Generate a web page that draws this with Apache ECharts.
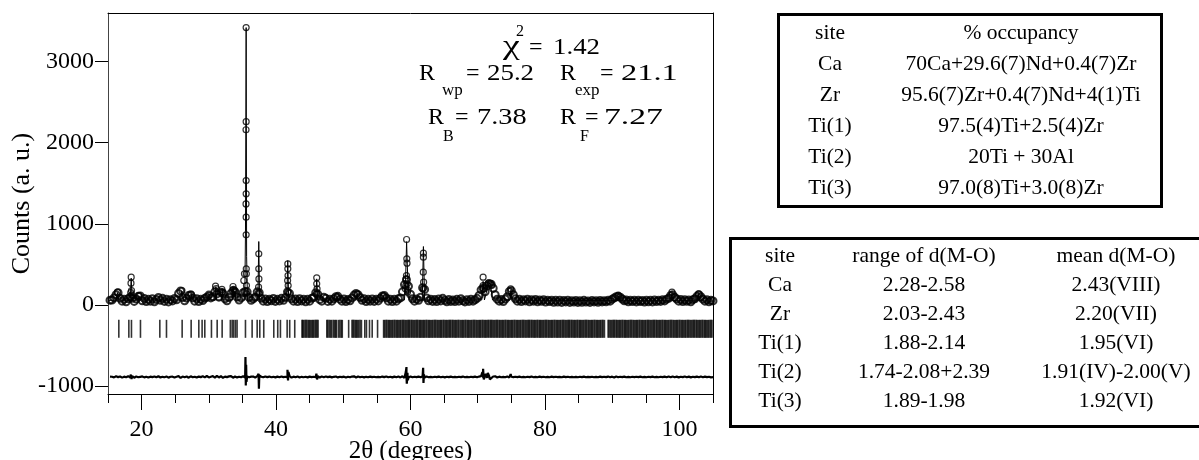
<!DOCTYPE html>
<html><head><meta charset="utf-8">
<script src="https://cdn.jsdelivr.net/npm/echarts@6/dist/echarts.min.js"></script>
<style>html,body{margin:0;padding:0;background:#fff}#c{width:1199px;height:460px}</style>
</head><body><div id="c"></div>
<script>
// ---------- data ----------
const obsStart = 15.3, obsStep = 0.3;
const obsBg = [58,
60,85,125,150,80,45,70,38,75,95,
80,42,72,105,110,50,78,40,68,45,
75,38,66,90,55,80,42,70,36,64,
48,78,62,140,170,90,50,82,115,125,
85,45,76,40,70,52,80,95,120,85,
100,160,135,95,155,140,75,50,90,140,
175,155,95,60,85,150,165,160,90,55,
75,95,160,150,80,45,72,40,70,50,
78,42,68,48,80,55,90,160,140,75,
45,72,40,75,48,70,38,68,45,80,
90,150,130,65,45,95,80,42,70,45,
75,100,105,70,45,72,40,66,50,85,
120,140,125,90,55,75,40,68,45,72,
42,70,48,80,110,115,85,45,70,40,
68,45,75,85,160,250,310,230,130,75,
45,72,55,95,210,190,85,50,70,42,
65,40,72,48,80,55,38,66,42,60,
40,68,45,75,50,36,64,42,70,45,
62,80,115,185,205,160,235,260,255,205,
125,70,45,66,40,72,100,165,175,125,
75,45,68,40,64,48,70,38,62,45,
66,38,60,44,64,35,58,40,56,32,
55,34,58,30,52,36,56,30,50,34,
54,30,50,32,55,34,48,30,52,36,
50,32,54,36,50,38,56,45,70,85,
100,108,95,72,50,60,38,58,40,55,
36,56,40,54,34,58,38,55,36,60,
40,58,42,62,48,70,80,115,125,95,
72,45,66,40,62,44,60,38,64,75,
105,125,100,70,45,62,38,55,48];

const obsPeaks = [
[16.4,156],[18.38,150],[18.42,267],[18.45,341],[18.5,176],[18.55,120],[19.6,115],[26.0,176],[27.4,127],[30.0,115],
[31.0,230],[31.1,200],[31.95,190],[32.05,160],[33.6,226],[33.7,190],[33.9,176],
[35.2,300],[35.3,382],[35.55,3420],[35.55,2260],[35.53,2160],[35.55,1533],[35.55,1369],[35.53,1245],[35.55,1081],
[35.55,863],[35.57,444],[35.58,382],[35.6,238],[35.62,136],
[37.43,629],[37.43,444],[37.45,320],[37.4,218],[37.48,136],
[41.75,505],[41.75,444],[41.78,361],[41.72,300],[41.8,238],[41.78,156],
[46.05,333],[46.05,259],[46.1,197],[46.0,136],[49.1,95],[52.05,136],[56.0,111],
[59.42,806],[59.45,567],[59.48,514],[59.4,361],[59.35,320],[59.3,238],[59.5,260],[59.55,156],[59.2,200],[59.6,180],
[61.92,637],[61.92,588],[61.9,403],[61.95,280],[61.88,197],
[70.8,341],[70.8,238],[70.85,197],[71.6,270],[71.9,265],[72.1,240],[74.9,197],
[90.9,115],[98.9,156],[102.85,136]];

const calcPts = [
[15.1,55],[16.2,60],[16.4,150],[16.6,60],[18.3,55],[18.45,330],[18.6,55],[19.5,60],[19.6,110],[19.7,60],
[25.8,60],[26.0,170],[26.2,60],[27.3,60],[27.4,125],[27.5,60],[29.9,60],[30.0,110],[30.1,60],
[30.95,60],[31.05,225],[31.15,60],[31.9,60],[32.0,185],[32.1,60],[33.5,60],[33.6,220],[33.75,90],[33.9,175],[34.0,60],
[35.35,60],[35.45,900],[35.55,3420],[35.62,600],[35.75,60],[37.3,60],[37.43,781],[37.55,60],
[41.6,60],[41.74,546],[41.88,60],[45.9,60],[46.05,320],[46.2,60],[49.0,60],[49.1,95],[49.2,60],
[51.9,60],[52.05,135],[52.2,60],[55.9,60],[56.0,110],[56.1,60],
[59.1,60],[59.25,250],[59.42,780],[59.6,300],[59.8,60],[61.75,60],[61.92,719],[62.1,60],
[70.6,60],[70.8,290],[71.0,60],[71.6,260],[71.9,260],[72.2,60],[74.8,60],[74.95,190],[75.1,60],
[90.8,50],[90.95,110],[91.1,50],[98.8,50],[98.9,150],[99.0,50],[102.75,50],[102.85,130],[102.95,50],[105,45]];

const diffOffset = -890;
const diffGrid = [5,
3,-5,8,-2,6,-8,4,-3,10,-6,
12,-9,5,-4,2,7,-5,3,-7,4,
-2,6,-4,9,-6,2,-3,5,-8,3,
4,-6,2,10,-12,5,-3,6,-9,8,
-4,3,-7,5,-2,8,-5,12,-6,3,
10,-8,14,-6,9,-10,4,-2,7,11,
-9,6,-5,3,-4,8,-6,5,-3,4,
6,-8,10,-5,3,-4,6,-2,5,-3,
2,-5,4,-3,6,-2,3,-6,12,-8,
4,-3,5,-6,2,-4,3,-5,4,-2,
3,-4,9,-7,5,-3,6,-2,4,-5,
2,6,-5,3,-2,4,-6,3,-4,5,
8,-6,7,-4,3,-5,2,-3,4,-2,
3,-4,2,-3,5,-2,6,-4,3,-5,
4,-3,6,-5,8,-10,12,-8,6,-4,
3,-2,5,-4,9,-7,5,-3,2,-4,
3,-2,4,-3,2,-5,3,-2,4,-3,
2,-4,3,-2,5,-3,2,-4,3,-2,
4,-3,5,10,-8,12,-10,14,-9,6,
8,-6,4,-3,2,-4,6,-5,3,-2,
3,-2,4,-3,2,-4,3,-2,5,-3,
2,-3,4,-2,3,-4,2,-3,4,-2,
3,-2,2,-3,4,-2,3,-4,2,-3,
2,-3,3,-2,4,-3,2,-2,3,-4,
2,-3,4,-2,3,-2,5,-3,4,-6,
6,-4,3,-2,4,-3,2,-4,3,-2,
3,-2,4,-3,2,-4,3,-2,4,-3,
2,-4,3,-2,4,-3,5,-4,6,-3,
4,-5,3,-2,6,-3,4,-5,3,-2,
5,-4,6,-3,4,-2,3,-5,-3];
const diffSpikes = [
[18.4,30],[18.5,-25],[35.45,245],[35.5,-105],[35.55,150],[35.6,-60],[37.4,40],[37.45,-146],[37.5,20],
[41.7,90],[41.78,-43],[41.85,60],[46.0,40],[46.1,-30],
[59.3,60],[59.4,122],[59.45,-84],[59.55,50],[59.6,-40],[61.88,113],[61.93,-75],[62.0,30],
[70.7,60],[70.8,101],[70.9,-30],[71.2,40],[71.5,50],[71.8,-30],[74.9,35],[75.1,-20]];

const braggLevel = -296;
const braggPos = [16.61,18.10,18.49,19.83,22.71,23.70,26.03,27.37,28.51,29.0,29.4,30.39,31.24,31.98,
33.2,33.47,33.7,33.96,34.2,35.45,36.44,37.19,37.58,38.17,39.66,40.25,40.65,41.65,42.03,42.78,43.87,
43.95,44.1,44.3,44.45,44.6,44.8,44.95,45.1,45.3,45.45,45.6,45.8,45.95,46.1,46.25,
47.55,47.7,47.9,48.1,48.25,48.5,48.7,48.85,49.0,49.3,49.5,49.7,49.85,50.8,
51.3,51.45,51.6,51.8,51.95,52.1,52.3,52.5,52.7,53.2,53.45,53.9,54.3,55.1,
56.0,56.15,56.35,56.5,56.7,56.85,57.0,57.2,57.35,57.55,57.7,57.9,58.05,58.2,58.4,58.55,58.75,58.9,59.05,59.25,
59.4,59.6,59.75,59.9,60.1,60.25,60.45,60.6,60.8,60.95,61.1,61.3,61.45,61.6,61.8,61.95,62.1,62.3,62.45,62.65,
62.8,62.95,63.15,63.3,63.5,63.65,63.8,64.0,64.15,64.35,64.5,64.65,64.85,65.0,65.2,65.35,65.5,65.7,65.85,66.0,
66.2,66.35,66.55,66.7,66.85,67.05,67.2,67.4,67.6,67.75,67.9,68.1,68.25,68.45,68.6,68.75,68.95,69.1,69.3,69.45,
69.6,69.8,69.95,70.15,70.3,70.45,70.65,70.8,71.0,71.15,71.3,71.5,71.65,71.85,72.0,72.15,72.35,72.5,72.7,72.85,
73.0,73.2,73.35,73.55,73.7,73.85,74.05,74.2,74.4,74.55,74.7,74.9,75.05,75.2,75.4,75.55,75.75,75.9,76.05,76.25,
76.4,76.6,76.75,76.9,77.1,77.25,77.45,77.6,77.75,77.95,78.1,78.3,78.45,78.6,78.8,78.95,79.15,79.3,79.45,79.65,
79.8,80.0,80.15,80.3,80.5,80.65,80.85,81.0,81.15,81.35,81.5,81.7,81.85,82.0,82.2,82.35,82.55,82.7,82.85,83.05,
83.2,83.4,83.55,83.7,83.9,84.05,84.25,84.4,84.55,84.75,84.9,85.1,85.25,85.4,85.6,85.75,85.95,86.1,86.25,86.45,
86.6,86.8,86.95,87.1,87.3,87.45,87.65,87.8,87.95,88.15,88.3,88.5,88.65,88.85,
89.4,89.55,89.75,89.9,90.1,90.25,90.4,90.6,90.75,90.95,91.1,91.25,91.45,91.6,91.8,91.95,92.1,92.3,92.45,92.65,
92.8,92.95,93.15,93.3,93.5,93.65,93.8,94.0,94.15,94.35,94.5,94.65,94.85,95.0,95.2,95.35,95.5,95.7,95.85,96.05,
96.2,96.35,96.55,96.7,96.9,97.05,97.2,97.4,97.55,97.75,97.9,98.05,98.25,98.4,98.6,98.75,98.9,99.1,99.25,99.45,
99.6,99.75,99.95,100.1,100.3,100.45,100.6,100.8,100.95,101.15,101.3,101.45,101.65,101.8,102.0,102.15,102.3,102.5,102.65,102.85,
103.0,103.15,103.35,103.5,103.7,103.85,104.0,104.2,104.35,104.55,104.7,104.85];

const xLabelTicks = [20,40,60,80,100];
const xMinorTicks = [15,20,25,30,35,40,45,50,55,60,65,70,75,80,85,90,95,100,105];
const yTicks = [-1000,0,1000,2000,3000];

const statChi = '1.42', statRwp = '25.2', statRexp = '21.1', statRB = '7.38', statRF = '7.27';

const occHeader = ['site','% occupancy'];
const occSites = ['Ca','Zr','Ti(1)','Ti(2)','Ti(3)'];
const occValues = ['70Ca+29.6(7)Nd+0.4(7)Zr','95.6(7)Zr+0.4(7)Nd+4(1)Ti','97.5(4)Ti+2.5(4)Zr','20Ti + 30Al','97.0(8)Ti+3.0(8)Zr'];
const bondHeader = ['site','range of d(M-O)','mean d(M-O)'];
const bondSites = ['Ca','Zr','Ti(1)','Ti(2)','Ti(3)'];
const bondRanges = ['2.28-2.58','2.03-2.43','1.88-2.14','1.74-2.08+2.39','1.89-1.98'];
const bondMeans = ['2.43(VIII)','2.20(VII)','1.95(VI)','1.91(IV)-2.00(V)','1.92(VI)'];

// ---------- build ----------
const FONT = '"Liberation Serif","Times New Roman",serif';
const obsGridData = obsBg.map((v,i)=>[obsStart+i*obsStep, v]);
const diffData = diffGrid.map((v,i)=>[obsStart+i*obsStep, v]).concat(diffSpikes)
  .sort((a,b)=>a[0]-b[0]).map(p=>[p[0], p[1]+diffOffset]);
const braggData = braggPos.map(x=>[x, braggLevel]);

const G = {left:108, right:486, top:13, bottom:66, containLabel:false, outerBoundsMode:'none'};
let gid = 0;
const txt = (s,x,y,size,align,sx)=>({type:'text', id:'t'+(gid++), silent:true, z:100, x:x, y:y, scaleX:sx||1,
  style:{text:s, x:0, y:0, fontSize:size, fontFamily:FONT, fill:'#000', align:align||'left', verticalAlign:'middle',
         textAlign:align||'left', textVerticalAlign:'middle'}});

const graphics = [];
// statistics annotations
graphics.push(txt('\u03c7',503,47,28,'left',1.35));
graphics.push(txt('2',516,32,16));
graphics.push(txt('=',529,47.5,24));
graphics.push(txt(statChi,553,47.5,24,'left',1.12));
graphics.push(txt('R',419,74,24));
graphics.push(txt('wp',442,91,17));
graphics.push(txt('=',466,74,24));
graphics.push(txt(statRwp,487,74,24,'left',1.12));
graphics.push(txt('R',560,74,24));
graphics.push(txt('exp',575,91,17));
graphics.push(txt('=',600,74,24));
graphics.push(txt(statRexp,621,74,24,'left',1.35));
graphics.push(txt('R',428,117.5,24));
graphics.push(txt('B',443,137,16));
graphics.push(txt('=',455,117.5,24));
graphics.push(txt(statRB,477,117.5,24,'left',1.18));
graphics.push(txt('R',560,117.5,24));
graphics.push(txt('F',580,137,16));
graphics.push(txt('=',585,117.5,24));
graphics.push(txt(statRF,604,117.5,24,'left',1.4));

// occupancy table
graphics.push({type:'rect', id:'occBox', silent:true, shape:{x:778.5,y:14.5,width:383,height:192}, style:{fill:'none',stroke:'#000',lineWidth:3}});
const occCols = [830,1021], occRow0 = 33.5, occDy = 31;
graphics.push(txt(occHeader[0],occCols[0],occRow0,21.5,'center'));
graphics.push(txt(occHeader[1],occCols[1],occRow0,21.5,'center'));
occSites.forEach((s,i)=>{
  graphics.push(txt(s,occCols[0],occRow0+(i+1)*occDy,21.5,'center'));
  graphics.push(txt(occValues[i],occCols[1],occRow0+(i+1)*occDy,21.5,'center'));
});
// bond table
graphics.push({type:'rect', id:'bondBox', silent:true, shape:{x:730.5,y:238.5,width:480,height:188}, style:{fill:'none',stroke:'#000',lineWidth:3}});
const bCols = [780,924,1116], bRow0 = 256.5, bDy = 29;
bondHeader.forEach((h,j)=>graphics.push(txt(h,bCols[j],bRow0,21.5,'center')));
bondSites.forEach((s,i)=>{
  const y = bRow0+(i+1)*bDy;
  graphics.push(txt(s,bCols[0],y,21.5,'center'));
  graphics.push(txt(bondRanges[i],bCols[1],y,21.5,'center'));
  graphics.push(txt(bondMeans[i],bCols[2],y,21.5,'center'));
});

const blk = {color:'#000', width:1};
const plain = v => String(v);
const option = {
  animation:false,
  backgroundColor:'#fff',
  grid:[Object.assign({},G), Object.assign({},G)],
  xAxis:[
    {gridIndex:0, type:'value', min:15, max:105, position:'bottom',
     axisLine:{onZero:false, lineStyle:blk}, axisTick:{customValues:xMinorTicks, length:9, lineStyle:blk},
     axisLabel:{show:false}, splitLine:{show:false}},
    {gridIndex:1, type:'value', min:15, max:105, position:'bottom',
     axisLine:{show:false, onZero:false}, axisTick:{customValues:xLabelTicks, length:16, lineStyle:blk},
     axisLabel:{customValues:xLabelTicks, formatter:plain, fontSize:24, fontFamily:FONT, color:'#000', margin:24},
     splitLine:{show:false},
     name:'2\u03b8 (degrees)', nameLocation:'middle', nameGap:45, nameMoveOverlap:false,
     nameTextStyle:{fontSize:25, fontFamily:FONT, color:'#000'}},
    {gridIndex:0, type:'value', min:15, max:105, position:'top',
     axisLine:{onZero:false, lineStyle:blk}, axisTick:{show:false}, axisLabel:{show:false}, splitLine:{show:false}}
  ],
  yAxis:[
    {gridIndex:0, type:'value', min:-1100, max:3600, position:'left',
     axisLine:{show:true, onZero:false, lineStyle:{color:'#444', width:1}},
     axisTick:{show:true, customValues:yTicks, length:13, lineStyle:blk},
     axisLabel:{customValues:yTicks, formatter:plain, fontSize:24, fontFamily:FONT, color:'#000', margin:14},
     splitLine:{show:false},
     name:'Counts (a. u.)', nameLocation:'middle', nameGap:73, nameMoveOverlap:false,
     nameTextStyle:{fontSize:26, fontFamily:FONT, color:'#000'}},
    {gridIndex:1, type:'value', min:-1100, max:3600, show:false},
    {gridIndex:0, type:'value', min:-1100, max:3600, position:'right',
     axisLine:{show:true, onZero:false, lineStyle:blk}, axisTick:{show:false}, axisLabel:{show:false}, splitLine:{show:false}}
  ],
  series:[
    {type:'scatter', name:'observed', xAxisIndex:0, yAxisIndex:0, data:obsGridData, symbol:'circle', symbolSize:7,
     itemStyle:{color:'rgba(0,0,0,0)', borderColor:'#000', borderWidth:2}, silent:true, z:2},
    {type:'scatter', name:'observed peaks', xAxisIndex:0, yAxisIndex:0, data:obsPeaks, symbol:'circle', symbolSize:6,
     itemStyle:{color:'rgba(0,0,0,0)', borderColor:'#000', borderWidth:1.2}, silent:true, z:2},
    {type:'line', name:'calculated', xAxisIndex:0, yAxisIndex:0, data:calcPts, showSymbol:false, symbol:'none',
     lineStyle:{color:'#000', width:1}, silent:true, z:3},
    {type:'scatter', name:'Bragg', xAxisIndex:0, yAxisIndex:0, data:braggData, symbol:'rect', symbolSize:[1.6,18],
     itemStyle:{color:'#000'}, silent:true, z:2},
    {type:'line', name:'difference', xAxisIndex:0, yAxisIndex:0, data:diffData, showSymbol:false, symbol:'none',
     lineStyle:{color:'#000', width:2.2}, silent:true, z:2}
  ],
  graphic:{elements:graphics}
};
const chart = echarts.init(document.getElementById('c'), null, {renderer:'canvas'});
chart.setOption(option);
</script>
</body></html>
